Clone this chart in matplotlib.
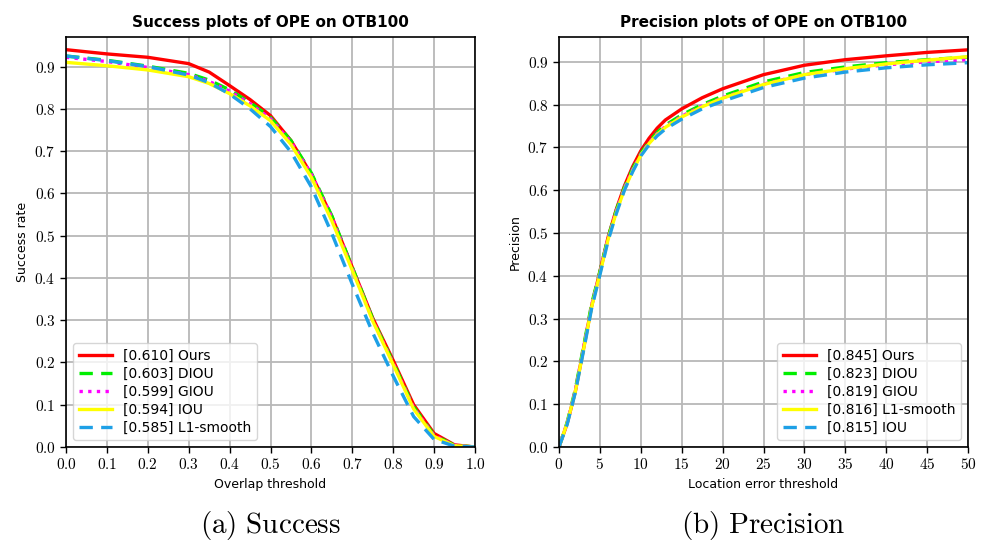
import matplotlib
matplotlib.use("Agg")
import matplotlib.pyplot as plt
import numpy as np

plt.rcParams['mathtext.fontset'] = 'cm'
plt.rcParams['font.family'] = ['DejaVu Sans']

# Success plot data (overlap threshold)
overlap = [0.0, 0.1, 0.2, 0.3, 0.35, 0.4, 0.45, 0.5, 0.55, 0.6, 0.65, 0.7, 0.75, 0.8, 0.85, 0.9, 0.95, 1.0]
succ_ours = [0.940, 0.930, 0.922, 0.907, 0.887, 0.855, 0.822, 0.784, 0.725, 0.645, 0.545, 0.425, 0.305, 0.205, 0.100, 0.032, 0.005, 0.0]
succ_diou = [0.925, 0.915, 0.901, 0.884, 0.868, 0.845, 0.815, 0.780, 0.725, 0.648, 0.547, 0.425, 0.303, 0.200, 0.095, 0.028, 0.004, 0.0]
succ_giou = [0.922, 0.912, 0.898, 0.881, 0.865, 0.842, 0.812, 0.777, 0.722, 0.645, 0.543, 0.422, 0.300, 0.198, 0.093, 0.027, 0.004, 0.0]
succ_iou = [0.910, 0.902, 0.892, 0.876, 0.860, 0.836, 0.807, 0.772, 0.716, 0.638, 0.535, 0.418, 0.298, 0.195, 0.090, 0.025, 0.003, 0.0]
succ_l1 = [0.925, 0.914, 0.900, 0.880, 0.862, 0.835, 0.800, 0.758, 0.698, 0.615, 0.505, 0.385, 0.270, 0.168, 0.072, 0.018, 0.002, 0.0]

# Precision plot data (location error threshold)
loc_err = [0, 1, 2, 3, 4, 5, 6, 7, 8, 9, 10, 11, 12, 13, 15, 17.5, 20, 25, 30, 35, 40, 45, 50]
prec_ours = [0.0, 0.055, 0.13, 0.23, 0.33, 0.41, 0.49, 0.555, 0.61, 0.655, 0.692, 0.721, 0.745, 0.764, 0.790, 0.816, 0.837, 0.870, 0.892, 0.905, 0.914, 0.922, 0.928]
prec_diou = [0.0, 0.058, 0.135, 0.235, 0.335, 0.41, 0.49, 0.553, 0.607, 0.650, 0.686, 0.713, 0.735, 0.752, 0.776, 0.800, 0.820, 0.853, 0.875, 0.888, 0.898, 0.905, 0.911]
prec_giou = [0.0, 0.057, 0.133, 0.232, 0.332, 0.408, 0.488, 0.551, 0.605, 0.648, 0.684, 0.711, 0.732, 0.749, 0.773, 0.797, 0.816, 0.848, 0.870, 0.883, 0.893, 0.900, 0.905]
prec_l1 = [0.0, 0.056, 0.130, 0.228, 0.328, 0.405, 0.485, 0.548, 0.602, 0.645, 0.682, 0.709, 0.730, 0.747, 0.771, 0.795, 0.815, 0.847, 0.870, 0.884, 0.895, 0.904, 0.912]
prec_iou = [0.0, 0.053, 0.128, 0.225, 0.325, 0.402, 0.482, 0.545, 0.600, 0.643, 0.680, 0.706, 0.727, 0.743, 0.766, 0.790, 0.808, 0.840, 0.862, 0.876, 0.886, 0.893, 0.898]

succ_labels = ['[0.610] Ours', '[0.603] DIOU', '[0.599] GIOU', '[0.594] IOU', '[0.585] L1-smooth']
prec_labels = ['[0.845] Ours', '[0.823] DIOU', '[0.819] GIOU', '[0.816] L1-smooth', '[0.815] IOU']

RED, GREEN, MAGENTA, YELLOW, BLUE = '#ff0000', '#00ee00', '#ff00ff', '#ffff00', '#1ea0e6'

fig = plt.figure(figsize=(9.86, 5.48), dpi=100)
ax1 = fig.add_axes([66 / 986, 1 - 447 / 548, 409 / 986, 410 / 548])
ax2 = fig.add_axes([559 / 986, 1 - 447 / 548, 409 / 986, 410 / 548])

lw = 2.4
ax1.plot(overlap, succ_ours, color=RED, lw=lw, label=succ_labels[0])
ax1.plot(overlap, succ_diou, color=GREEN, lw=lw, ls=(0, (4, 2.5)), label=succ_labels[1])
ax1.plot(overlap, succ_giou, color=MAGENTA, lw=lw, ls=(0, (1, 1.6)), label=succ_labels[2])
ax1.plot(overlap, succ_iou, color=YELLOW, lw=lw, label=succ_labels[3])
ax1.plot(overlap, succ_l1, color=BLUE, lw=lw, ls=(0, (4, 2.5)), label=succ_labels[4])

ax2.plot(loc_err, prec_ours, color=RED, lw=lw, label=prec_labels[0])
ax2.plot(loc_err, prec_diou, color=GREEN, lw=lw, ls=(0, (4, 2.5)), label=prec_labels[1])
ax2.plot(loc_err, prec_giou, color=MAGENTA, lw=lw, ls=(0, (1, 1.6)), label=prec_labels[2])
ax2.plot(loc_err, prec_l1, color=YELLOW, lw=lw, label=prec_labels[3])
ax2.plot(loc_err, prec_iou, color=BLUE, lw=lw, ls=(0, (4, 2.5)), label=prec_labels[4])

ax1.set_xlim(0, 1)
ax1.set_ylim(0, 0.97)
ax2.set_xlim(0, 50)
ax2.set_ylim(0, 0.958)

xt1 = np.arange(0, 1.01, 0.1)
yt = np.arange(0, 0.91, 0.1)
xt2 = np.arange(0, 51, 5)
ax1.set_xticks(xt1)
ax1.set_xticklabels([f'${v:.1f}$' for v in xt1])
ax1.set_yticks(yt)
ax1.set_yticklabels([f'${v:.1f}$' for v in yt])
ax2.set_xticks(xt2)
ax2.set_xticklabels([f'${v:d}$' for v in xt2])
ax2.set_yticks(yt)
ax2.set_yticklabels([f'${v:.1f}$' for v in yt])

for ax in (ax1, ax2):
    ax.grid(True, color='#b8b8b8', lw=1.3)
    ax.set_axisbelow(True)
    ax.tick_params(labelsize=11, length=4, width=1)
    for sp in ax.spines.values():
        sp.set_linewidth(1.2)

ax1.set_title('Success plots of OPE on OTB100', fontweight='bold', fontsize=11, pad=7)
ax2.set_title('Precision plots of OPE on OTB100', fontweight='bold', fontsize=11, pad=7)
ax1.set_xlabel('Overlap threshold', fontsize=9)
ax1.set_ylabel('Success rate', fontsize=9)
ax2.set_xlabel('Location error threshold', fontsize=9)
ax2.set_ylabel('Precision', fontsize=9)

leg_kw = dict(fontsize=10, handlelength=2.4, labelspacing=0.28, borderpad=0.4,
              handletextpad=0.8, framealpha=0.8, edgecolor='#cccccc')
ax1.legend(loc='lower left', **leg_kw)
ax2.legend(loc='lower right', **leg_kw)

fig.text(270 / 986, 1 - 525 / 548, r'$\mathrm{(a)\ Success}$', fontsize=21, ha='center', va='center')
fig.text(763 / 986, 1 - 525 / 548, r'$\mathrm{(b)\ Precision}$', fontsize=21, ha='center', va='center')

fig.savefig('out.png', dpi=100)
